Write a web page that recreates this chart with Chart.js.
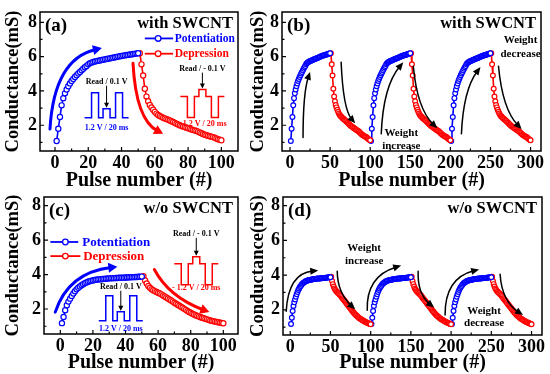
<!DOCTYPE html>
<html>
<head>
<meta charset="utf-8">
<script src="https://cdn.jsdelivr.net/npm/chart.js@4.4.1/dist/chart.umd.min.js"></script>
<style>
  body { margin: 0; background: #fff; width: 550px; height: 374px; position: relative; overflow: hidden; }
  canvas { position: absolute; }
</style>
</head>
<body>
<canvas id="chartA" width="245" height="194" style="left:0;top:0"></canvas>
<canvas id="chartB" width="305" height="194" style="left:245px;top:0"></canvas>
<canvas id="chartC" width="245" height="189" style="left:0;top:185px"></canvas>
<canvas id="chartD" width="305" height="189" style="left:245px;top:185px"></canvas>
<script>
// with SWCNT: pulses 1-50 (potentiation) and 51-100 (depression)
const withPot = [1.08, 1.80, 2.48, 3.16, 3.58, 3.86, 4.08, 4.27, 4.44, 4.58,
    4.70, 4.81, 4.92, 5.02, 5.11, 5.20, 5.29, 5.38, 5.46, 5.55,
    5.61, 5.65, 5.69, 5.72, 5.74, 5.76, 5.78, 5.80, 5.82, 5.84,
    5.86, 5.88, 5.90, 5.92, 5.94, 5.96, 5.98, 6.00, 6.02, 6.04,
    6.06, 6.07, 6.09, 6.10, 6.12, 6.13, 6.15, 6.16, 6.18, 6.20];
const withDep = [6.20, 5.55, 4.90, 4.13, 3.67, 3.40, 3.18, 3.04, 2.90, 2.78,
    2.68, 2.60, 2.54, 2.49, 2.44, 2.40, 2.36, 2.32, 2.28, 2.24,
    2.19, 2.14, 2.09, 2.04, 2.00, 1.96, 1.93, 1.90, 1.86, 1.82,
    1.79, 1.76, 1.73, 1.70, 1.67, 1.63, 1.58, 1.54, 1.49, 1.45,
    1.42, 1.39, 1.36, 1.33, 1.31, 1.27, 1.23, 1.19, 1.16, 1.13];
// w/o SWCNT
const woPot = [1.18, 1.54, 1.93, 2.22, 2.43, 2.60, 2.76, 2.90, 3.03, 3.14,
    3.23, 3.31, 3.38, 3.44, 3.50, 3.54, 3.58, 3.61, 3.64, 3.66,
    3.68, 3.70, 3.71, 3.72, 3.73, 3.74, 3.75, 3.76, 3.77, 3.78,
    3.78, 3.79, 3.79, 3.80, 3.80, 3.81, 3.81, 3.82, 3.82, 3.83,
    3.83, 3.84, 3.84, 3.85, 3.85, 3.86, 3.86, 3.87, 3.87, 3.88];
const woDep = [3.90, 3.66, 3.48, 3.34, 3.23, 3.15, 3.09, 3.04, 2.99, 2.95,
    2.90, 2.85, 2.79, 2.73, 2.67, 2.61, 2.55, 2.49, 2.43, 2.37,
    2.31, 2.25, 2.19, 2.13, 2.07, 2.01, 1.95, 1.89, 1.83, 1.78,
    1.73, 1.68, 1.64, 1.60, 1.56, 1.52, 1.49, 1.46, 1.43, 1.40,
    1.37, 1.34, 1.31, 1.29, 1.27, 1.25, 1.23, 1.21, 1.19, 1.17];

const cycleStarts = [0, 100, 200];
const xTicksShort = [0, 20, 40, 60, 80, 100];
const xTicksLong = [0, 50, 100, 150, 200, 250, 300];
const yTicks = [2, 4, 6, 8];

const BLUE = '#0000ff';
const RED = '#ff0000';
const SERIF = '"Liberation Serif", "Times New Roman", serif';

function series(vals, start, color, r) {
    return {
        data: vals.map((v, i) => ({ x: start + i, y: v })),
        borderColor: color,
        borderWidth: 1.6,
        pointRadius: r,
        pointBorderWidth: 1.2,
        pointBorderColor: color,
        pointBackgroundColor: '#fff',
        tension: 0
    };
}

// --- drawing helpers (annotations placed in data units) ---
function px(c, x, y) {
    return [c.scales.x.getPixelForValue(x), c.scales.y.getPixelForValue(y)];
}

function arrow(c, p0, ctrl, p1, color, lw, hl, hw) {
    const ctx = c.ctx;
    const [ax, ay] = px(c, p0[0], p0[1]);
    const [cx, cy] = px(c, ctrl[0], ctrl[1]);
    const [bx, by] = px(c, p1[0], p1[1]);
    const ang = Math.atan2(by - cy, bx - cx);
    const cos = Math.cos(ang), sin = Math.sin(ang);
    ctx.save();
    ctx.strokeStyle = color;
    ctx.fillStyle = color;
    ctx.lineWidth = lw;
    ctx.lineCap = 'round';
    ctx.beginPath();
    ctx.moveTo(ax, ay);
    ctx.quadraticCurveTo(cx, cy, bx - cos * hl * 0.7, by - sin * hl * 0.7);
    ctx.stroke();
    ctx.beginPath();
    ctx.moveTo(bx, by);
    ctx.lineTo(bx - cos * hl + sin * hw, by - sin * hl - cos * hw);
    ctx.lineTo(bx - cos * hl - sin * hw, by - sin * hl + cos * hw);
    ctx.closePath();
    ctx.fill();
    ctx.restore();
}

function text(c, str, x, y, color, size, align) {
    const ctx = c.ctx;
    const [tx, ty] = px(c, x, y);
    ctx.save();
    ctx.font = `bold ${size}px ${SERIF}`;
    ctx.fillStyle = color;
    ctx.textAlign = align || 'center';
    ctx.textBaseline = 'middle';
    ctx.fillText(str, tx, ty);
    ctx.restore();
}

// pulse train sketch: two write pulses around a small read pulse
function pulse(c, p) {
    const ctx = c.ctx;
    const [x, y] = px(c, p.at[0], p.at[1]);
    const h = p.sign * p.h, b = p.bh;
    ctx.save();
    ctx.strokeStyle = p.color;
    ctx.lineWidth = 1.5;
    ctx.beginPath();
    ctx.moveTo(x - 22, y);
    ctx.lineTo(x - 15, y); ctx.lineTo(x - 15, y - h); ctx.lineTo(x - 8, y - h); ctx.lineTo(x - 8, y);
    ctx.lineTo(x - 3.5, y); ctx.lineTo(x - 3.5, y - b); ctx.lineTo(x + 3.5, y - b); ctx.lineTo(x + 3.5, y);
    ctx.lineTo(x + 9, y); ctx.lineTo(x + 9, y - h); ctx.lineTo(x + 16, y - h); ctx.lineTo(x + 16, y);
    ctx.lineTo(x + 22, y);
    ctx.stroke();
    // read arrow
    ctx.strokeStyle = '#000';
    ctx.fillStyle = '#000';
    ctx.lineWidth = 1;
    ctx.beginPath();
    ctx.moveTo(x, y + p.arrow[0]);
    ctx.lineTo(x, y + p.arrow[1] - 4);
    ctx.stroke();
    ctx.beginPath();
    ctx.moveTo(x, y + p.arrow[1]);
    ctx.lineTo(x - 2.5, y + p.arrow[1] - 5);
    ctx.lineTo(x + 2.5, y + p.arrow[1] - 5);
    ctx.closePath();
    ctx.fill();
    ctx.font = `bold 8px ${SERIF}`;
    ctx.textAlign = 'center';
    ctx.textBaseline = 'middle';
    ctx.fillText(p.top, x, y + p.topOff);
    ctx.fillStyle = p.color;
    ctx.font = `bold 8px ${SERIF}`;
    ctx.fillText(p.bottom, x, y + p.bottomOff);
    ctx.restore();
}

function legendItem(c, label, y, x0, x1, xc, xt, color, size) {
    const ctx = c.ctx;
    const [a, py] = px(c, x0, y);
    const [b] = px(c, x1, y);
    const [m] = px(c, xc, y);
    const [t] = px(c, xt, y);
    ctx.save();
    ctx.strokeStyle = color;
    ctx.lineWidth = 1.8;
    ctx.beginPath(); ctx.moveTo(a, py); ctx.lineTo(b, py); ctx.stroke();
    ctx.fillStyle = '#fff';
    ctx.lineWidth = 1.3;
    ctx.beginPath(); ctx.arc(m, py, 2.8, 0, Math.PI * 2); ctx.fill(); ctx.stroke();
    ctx.fillStyle = color;
    ctx.font = `bold ${size}px ${SERIF}`;
    ctx.textAlign = 'left';
    ctx.textBaseline = 'middle';
    ctx.fillText(label, t, py + 0.5);
    ctx.restore();
}

function corners(c, tag, title) {
    const ctx = c.ctx, a = c.chartArea;
    ctx.save();
    ctx.fillStyle = '#000';
    ctx.textBaseline = 'middle';
    ctx.font = `bold 19px ${SERIF}`;
    ctx.textAlign = 'left';
    ctx.fillText(tag, a.left + 5, a.top + 14);
    ctx.font = `bold 16.5px ${SERIF}`;
    ctx.textAlign = 'right';
    ctx.fillText(title, a.right - 5, a.top + 12);
    ctx.restore();
}

// frame box plus inward major/minor ticks on bottom and left
const framePlugin = {
    id: 'frame',
    afterDraw(c) {
        const { ctx, chartArea: a, scales: { x, y } } = c;
        ctx.save();
        ctx.strokeStyle = '#000';
        ctx.lineWidth = 1.5;
        ctx.strokeRect(a.left, a.top, a.width, a.height);
        ctx.lineWidth = 1.2;
        ctx.beginPath();
        const xt = x.ticks.map(t => t.value);
        xt.forEach((v, i) => {
            const p = x.getPixelForValue(v);
            ctx.moveTo(p, a.bottom); ctx.lineTo(p, a.bottom - 4);
            if (i < xt.length - 1) {
                const q = x.getPixelForValue((v + xt[i + 1]) / 2);
                ctx.moveTo(q, a.bottom); ctx.lineTo(q, a.bottom - 2.5);
            }
        });
        const yt = y.ticks.map(t => t.value);
        yt.forEach((v, i) => {
            const p = y.getPixelForValue(v);
            ctx.moveTo(a.left, p); ctx.lineTo(a.left + 4, p);
            const q = y.getPixelForValue(v - (yt[1] - yt[0]) / 2);
            ctx.moveTo(a.left, q); ctx.lineTo(a.left + 2.5, q);
        });
        ctx.stroke();
        ctx.restore();
    }
};

function makeChart(id, cfg) {
    const tickFont = { family: SERIF, size: 18, weight: 'bold', lineHeight: 1 };
    return new Chart(document.getElementById(id), {
        type: 'line',
        data: { datasets: cfg.datasets },
        options: {
            responsive: false,
            animation: false,
            events: [],
            layout: { padding: { top: 5, right: cfg.padRight, left: 0, bottom: 0 } },
            plugins: { legend: { display: false }, tooltip: { enabled: false } },
            scales: {
                x: {
                    type: 'linear',
                    min: cfg.xMin,
                    max: cfg.xMax,
                    grid: { display: false, drawTicks: false },
                    border: { display: false },
                    afterBuildTicks: s => { s.ticks = cfg.xTicks.map(v => ({ value: v })); },
                    afterFit: s => { s.height = cfg.xH; },
                    ticks: { font: tickFont, color: '#000', padding: 3, maxRotation: 0, autoSkip: false },
                    title: {
                        display: true,
                        text: 'Pulse number (#)',
                        color: '#000',
                        font: { family: SERIF, size: 20, weight: 'bold', lineHeight: 1 },
                        padding: { top: 0, bottom: cfg.xTitlePad }
                    }
                },
                y: {
                    min: cfg.yMin,
                    max: cfg.yMax,
                    grid: { display: false, drawTicks: false },
                    border: { display: false },
                    afterBuildTicks: s => { s.ticks = yTicks.map(v => ({ value: v })); },
                    afterFit: s => { s.width = cfg.yW; },
                    ticks: { font: tickFont, color: '#000', padding: 3 },
                    title: {
                        display: true,
                        text: 'Conductance(mS)',
                        color: '#000',
                        font: { family: SERIF, size: 18.5, weight: 'bold', lineHeight: 1 },
                        padding: { top: 4, bottom: 0 }
                    }
                }
            }
        },
        plugins: [framePlugin, { id: 'notes', afterDraw: cfg.draw }]
    });
}

// (a) with SWCNT, single cycle
makeChart('chartA', {
    datasets: [series(withPot, 1, BLUE, 2.6), series(withDep, 51, RED, 2.6)],
    xMin: -9, xMax: 110, yMin: 0.5, yMax: 8.6,
    xTicks: xTicksShort, xH: 43, yW: 40, padRight: 7, xTitlePad: 3,
    draw: c => {
        corners(c, '(a)', 'with SWCNT');
        legendItem(c, 'Potentiation', 7.06, 54, 71, 62, 72, BLUE, 11.5);
        legendItem(c, 'Depression', 6.17, 54, 71, 62, 72, RED, 11.5);
        arrow(c, [-3, 1.78], [-0.6, 5.86], [28.2, 6.5], BLUE, 3, 9, 5);
        arrow(c, [46.9, 5.61], [48.7, 2.33], [65, 1.5], RED, 3, 9, 5);
        pulse(c, { at: [31, 2.44], sign: 1, h: 25, bh: 9, color: BLUE,
            top: 'Read / 0.1 V', topOff: -36, arrow: [-32, -10], bottom: '1.2 V / 20 ms', bottomOff: 10 });
        pulse(c, { at: [88.6, 3.67], sign: -1, h: 21, bh: 7, color: RED,
            top: 'Read / - 0.1 V', topOff: -28, arrow: [-24, -8], bottom: '- 1.2 V / 20 ms', bottomOff: 27 });
    }
});

// (b) with SWCNT, three cycles
makeChart('chartB', {
    datasets: cycleStarts.flatMap(s => [series(withPot, s + 1, BLUE, 2.4), series(withDep, s + 51, RED, 2.4)]),
    xMin: -10, xMax: 313, yMin: 0.5, yMax: 8.6,
    xTicks: xTicksLong, xH: 43, yW: 37, padRight: 9, xTitlePad: 3,
    draw: c => {
        corners(c, '(b)', 'with SWCNT');
        const K = '#000';
        arrow(c, [16.25, 1.28], [16.25, 3.89], [25, 5.11], K, 1.5, 8, 3.5);
        arrow(c, [63.75, 5.67], [66.25, 2.94], [81.25, 2.11], K, 1.5, 8, 3.5);
        arrow(c, [113.75, 1.5], [116.25, 4.28], [141.25, 5.67], K, 1.5, 8, 3.5);
        arrow(c, [153.75, 5.44], [158.75, 2.94], [183.75, 1.83], K, 1.5, 8, 3.5);
        arrow(c, [213.75, 1.5], [216.25, 4.06], [237.5, 5.39], K, 1.5, 8, 3.5);
        arrow(c, [260, 5.44], [265, 2.94], [288.75, 1.78], K, 1.5, 8, 3.5);
        text(c, 'Weight', 287.5, 6.94, K, 11);
        text(c, 'decrease', 287.5, 6.17, K, 11);
        text(c, 'Weight', 138.75, 1.56, K, 11);
        text(c, 'increase', 138.75, 0.78, K, 11);
    }
});

// (c) w/o SWCNT, single cycle
makeChart('chartC', {
    datasets: [series(woPot, 1, BLUE, 2.6), series(woDep, 51, RED, 2.6)],
    xMin: -10, xMax: 109, yMin: 0.55, yMax: 8.5,
    xTicks: xTicksShort, xH: 40, yW: 44, padRight: 7, xTitlePad: 1,
    draw: c => {
        corners(c, '(c)', 'w/o SWCNT');
        legendItem(c, 'Potentiation', 5.89, -6.1, 11, 3.1, 13.5, BLUE, 13);
        legendItem(c, 'Depression', 5.07, -6.1, 12.3, 3.1, 14, RED, 13);
        arrow(c, [-3.1, 1.82], [4.9, 4.12], [35, 4.45], BLUE, 3, 9, 5);
        arrow(c, [57.7, 4.29], [66.6, 2.7], [91.4, 1.82], RED, 3, 9, 5);
        pulse(c, { at: [37.1, 1.32], sign: 1, h: 25, bh: 9, color: BLUE,
            top: 'Read / 0.1 V', topOff: -34, arrow: [-30, -10], bottom: '1.2 V / 20 ms', bottomOff: 8 });
        pulse(c, { at: [83.4, 4.62], sign: -1, h: 21, bh: 7, color: RED,
            top: 'Read / - 0.1 V', topOff: -30, arrow: [-26, -8], bottom: '- 1.2 V / 20 ms', bottomOff: 24 });
    }
});

// (d) w/o SWCNT, three cycles
makeChart('chartD', {
    datasets: cycleStarts.flatMap(s => [series(woPot, s + 1, BLUE, 2.4), series(woDep, s + 51, RED, 2.4)]),
    xMin: -9, xMax: 313, yMin: 0.55, yMax: 8.5,
    xTicks: xTicksLong, xH: 39, yW: 38, padRight: 8, xTitlePad: 1,
    draw: c => {
        corners(c, '(d)', 'w/o SWCNT');
        const K = '#000';
        arrow(c, [-5, 1.92], [-2.5, 4.1], [34.8, 4.27], K, 1.5, 8, 3.5);
        arrow(c, [58.4, 4.22], [58.8, 2.98], [80.7, 2.03], K, 1.5, 8, 3.5);
        arrow(c, [95.7, 1.98], [94.4, 3.93], [137.9, 4.55], K, 1.5, 8, 3.5);
        arrow(c, [159, 4.22], [158.1, 2.9], [178.9, 2.14], K, 1.5, 8, 3.5);
        arrow(c, [192.5, 1.7], [192.2, 3.82], [234.8, 4.33], K, 1.5, 8, 3.5);
        arrow(c, [260.9, 4.05], [263.1, 2.5], [289.4, 1.7], K, 1.5, 8, 3.5);
        text(c, 'Weight', 91.9, 5.58, K, 11);
        text(c, 'increase', 91.9, 4.82, K, 11);
        text(c, 'Weight', 241, 1.92, K, 11);
        text(c, 'decrease', 241, 1.21, K, 11);
    }
});
</script>
</body>
</html>
